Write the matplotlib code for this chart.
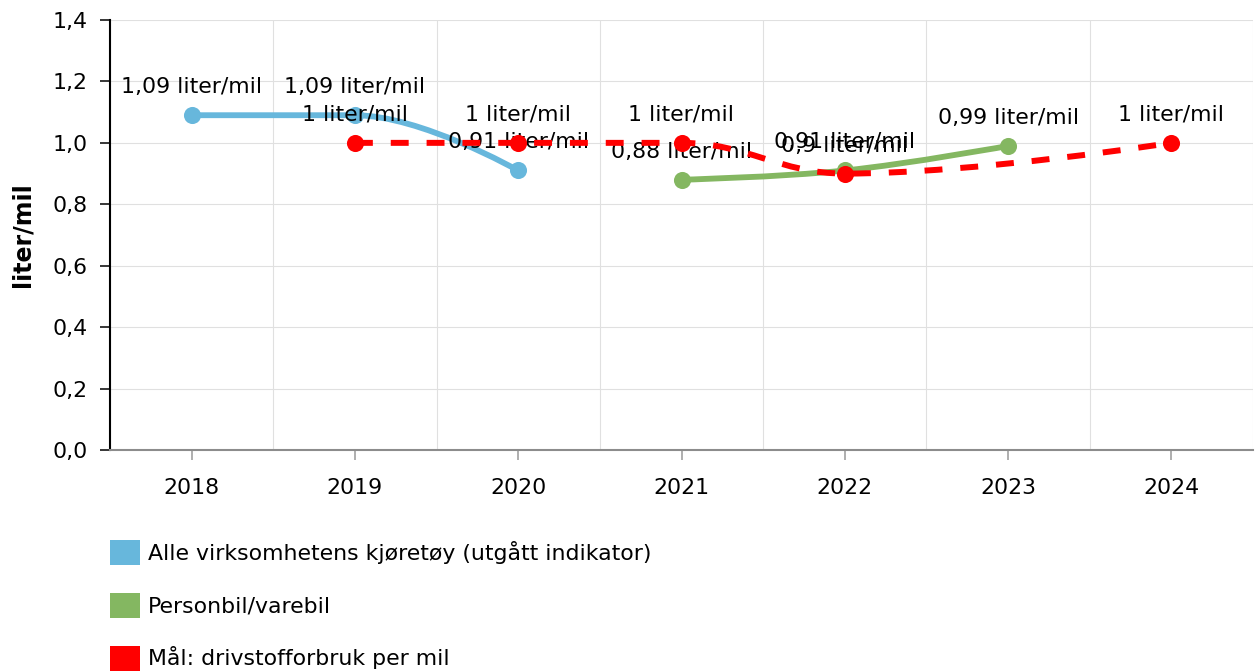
import matplotlib
matplotlib.use('Agg')
import matplotlib.pyplot as plt
from matplotlib.path import Path
from matplotlib.patches import PathPatch, Patch
from matplotlib.ticker import FixedLocator, FuncFormatter

# ---- data ----
years = ['2018', '2019', '2020', '2021', '2022', '2023', '2024']
alle = [1.09, 1.09, 0.91, None, None, None, None]
person = [None, None, None, 0.88, 0.91, 0.99, None]
maal = [None, 1.0, 1.0, 1.0, 0.9, None, 1.0]
series_names = ['Alle virksomhetens kjøretøy (utgått indikator)',
                'Personbil/varebil',
                'Mål: drivstofforbruk per mil']
series_values = [alle, person, maal]
colors = ['#67b7dc', '#84b761', '#ff0000']
yticks = [0.0, 0.2, 0.4, 0.6, 0.8, 1.0, 1.2, 1.4]
unit = 'liter/mil'

W, H = 1258, 672
FS = 15.8


def spline_path(xs, ys):
    """Highcharts-style spline (smoothing 1.5) as cubic Bezier path."""
    pts = list(zip(xs, ys))
    verts = [pts[0]]
    codes = [Path.MOVETO]
    right = {}
    s, d = 1.5, 2.5
    for i in range(1, len(pts)):
        px, py = pts[i]
        lx, ly = pts[i - 1]
        lc = (px, py)
        if i + 1 < len(pts):
            nx, ny = pts[i + 1]
            lcx = (s * px + lx) / d
            lcy = (s * py + ly) / d
            rcx = (s * px + nx) / d
            rcy = (s * py + ny) / d
            corr = 0.0
            if rcx != lcx:
                corr = (rcy - lcy) * (rcx - px) / (rcx - lcx) + py - rcy
            lcy += corr
            rcy += corr
            if lcy > ly and lcy > py:
                lcy = max(ly, py); rcy = 2 * py - lcy
            elif lcy < ly and lcy < py:
                lcy = min(ly, py); rcy = 2 * py - lcy
            if rcy > ny and rcy > py:
                rcy = max(ny, py); lcy = 2 * py - rcy
            elif rcy < ny and rcy < py:
                rcy = min(ny, py); lcy = 2 * py - rcy
            right[i] = (rcx, rcy)
            lc = (lcx, lcy)
        c1 = right.get(i - 1, (lx, ly))
        verts += [c1, lc, (px, py)]
        codes += [Path.CURVE4] * 3
    return Path(verts, codes)


def fmt_val(v):
    t = f"{v:.2f}".rstrip('0').rstrip('.')
    return t.replace('.', ',') + ' ' + unit


fig = plt.figure(figsize=(W / 100, H / 100), dpi=100)
ax = fig.add_axes([110 / W, 1 - 450 / H, 1143 / W, 430 / H])
ax.set_xlim(-0.5, len(years) - 0.5)
ax.set_ylim(0, 1.4)

# grid
ax.set_axisbelow(True)
ax.yaxis.set_major_locator(FixedLocator(yticks))
ax.yaxis.set_major_formatter(FuncFormatter(lambda v, p: f"{v:.1f}".replace('.', ',')))
ax.set_xticks(range(len(years)))
ax.set_xticklabels(years)
ax.xaxis.set_minor_locator(FixedLocator([i - 0.5 for i in range(len(years) + 1)]))
ax.grid(axis='y', which='major', color='#e0e0e0', lw=0.8)
ax.grid(axis='x', which='minor', color='#e0e0e0', lw=0.8)
ax.tick_params(axis='x', which='minor', length=0)

for sp in ['top', 'right']:
    ax.spines[sp].set_visible(False)
ax.spines['left'].set_color('black')
ax.spines['left'].set_linewidth(1.5)
ax.spines['bottom'].set_color('#8c8c8c')
ax.spines['bottom'].set_linewidth(1.5)

ax.tick_params(axis='y', which='major', direction='out', length=7.2, width=1.1,
               color='black', labelsize=FS, pad=9)
ax.tick_params(axis='x', which='major', direction='out', length=7.2, width=1.1,
               color='#999999', labelsize=FS, pad=13, labelcolor='black')

z = 3
for vals, col in zip(series_values, colors):
    xs = [i for i, v in enumerate(vals) if v is not None]
    ys = [v for v in vals if v is not None]
    path = spline_path(xs, ys)
    if col == '#ff0000':
        patch = PathPatch(path, fill=False, edgecolor=col, lw=4.3,
                          linestyle=(0, (3, 3)), capstyle='butt', zorder=z)
    else:
        patch = PathPatch(path, fill=False, edgecolor=col, lw=4.2,
                          capstyle='round', joinstyle='round', zorder=z)
    ax.add_patch(patch)
    ax.plot(xs, ys, 'o', color=col, ms=12.3, mec='none', zorder=z + 0.5)
    for x, y in zip(xs, ys):
        ax.annotate(fmt_val(y), (x, y), xytext=(0, 22), textcoords='offset pixels',
                    ha='center', va='baseline', fontsize=FS, color='black',
                    zorder=z + 1, annotation_clip=False)
    z += 2

fig.text(22 / W, 1 - 235 / H, unit, rotation=90, ha='center', va='center',
         fontsize=17, fontweight='bold')

handles = [Patch(facecolor=c, edgecolor='none') for c in colors]
fig.legend(handles, series_names, loc='upper left',
           bbox_to_anchor=(110 / W, 1 - 540 / H), frameon=False, fontsize=FS,
           handlelength=1.36, handleheight=1.36, handletextpad=0.36,
           labelspacing=1.28, borderpad=0, borderaxespad=0)

fig.savefig('out.png', dpi=100)
